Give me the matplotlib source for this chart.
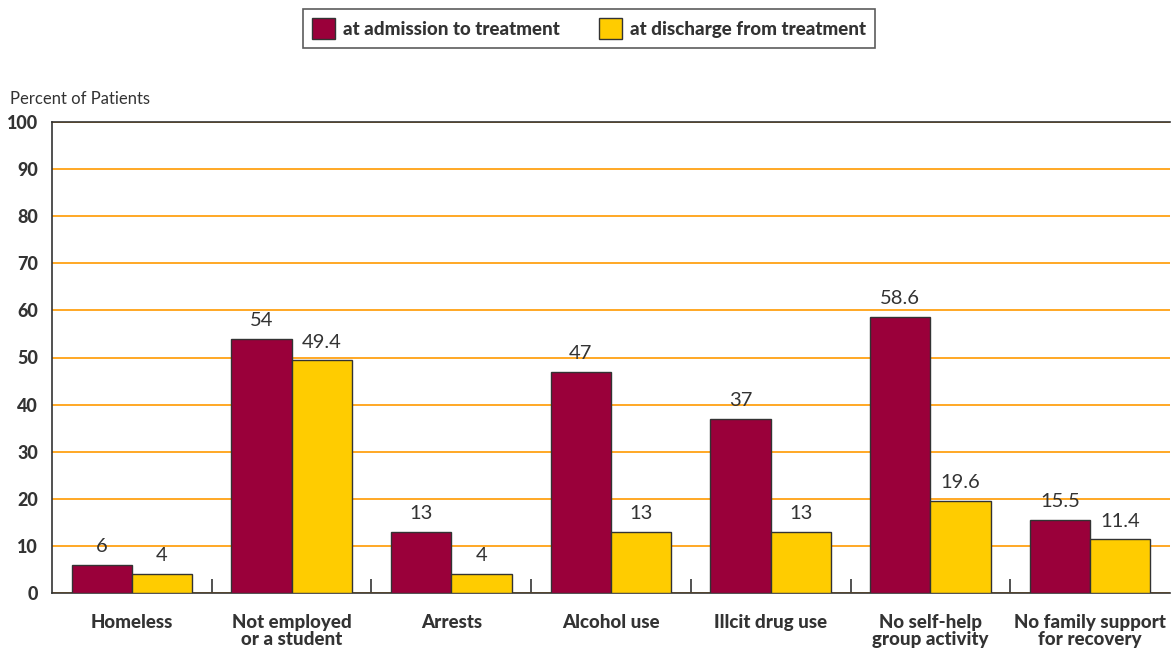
import matplotlib
matplotlib.use("Agg")
import matplotlib.pyplot as plt
import numpy as np

categories = ["Homeless", "Not employed\nor a student", "Arrests", "Alcohol use",
              "Illcit drug use", "No self-help\ngroup activity", "No family support\nfor recovery"]
admission = [6, 54, 13, 47, 37, 58.6, 15.5]
discharge = [4, 49.4, 4, 13, 13, 19.6, 11.4]
adm_labels = ["6", "54", "13", "47", "37", "58.6", "15.5"]
dis_labels = ["4", "49.4", "4", "13", "13", "19.6", "11.4"]
series_names = ["at admission to treatment", "at discharge from treatment"]
yticks = list(range(0, 101, 10))

maroon = "#9A003A"
yellow = "#FFCC00"
edge = "#333333"
grid_c = "#FF9900"
text_c = "#333333"

fig = plt.figure(figsize=(11.73, 6.49), dpi=100)
ax = fig.add_axes([52/1173, 1-593/649, (1170-52)/1173, (593-122)/649])

x = np.arange(len(categories))
w = 0.3775
b1 = ax.bar(x - w/2, admission, w, color=maroon, edgecolor=edge, linewidth=1.0,
            label=series_names[0], zorder=3)
b2 = ax.bar(x + w/2, discharge, w, color=yellow, edgecolor=edge, linewidth=1.0,
            label=series_names[1], zorder=3)

for rect, lab in zip(b1, adm_labels):
    ax.annotate(lab, (rect.get_x() + rect.get_width()/2, rect.get_height()),
                xytext=(0, 7), textcoords="offset points", ha="center", va="bottom",
                fontsize=14.5, color=text_c, family="Lato")
for rect, lab in zip(b2, dis_labels):
    ax.annotate(lab, (rect.get_x() + rect.get_width()/2, rect.get_height()),
                xytext=(0, 7), textcoords="offset points", ha="center", va="bottom",
                fontsize=14.5, color=text_c, family="Lato")

ax.set_xlim(-0.5, len(categories) - 0.5)
ax.set_ylim(0, 100)
ax.set_yticks(yticks)
ax.set_yticklabels([str(t) for t in yticks], fontsize=13, fontweight="black",
                   color=text_c, family="Lato")
ax.tick_params(axis="y", length=0, pad=10)

ax.set_xticks(x)
ax.set_xticklabels(categories, fontsize=13.5, fontweight="black", color=text_c,
                   family="Lato", linespacing=1.0)
ax.tick_params(axis="x", which="major", length=0, pad=15)
ax.set_xticks(np.arange(0.5, len(categories) - 1, 1), minor=True)
ax.tick_params(axis="x", which="minor", direction="in", length=10, width=1.2,
               color=edge)

ax.yaxis.grid(True, color=grid_c, linewidth=1.2, zorder=0)
ax.set_axisbelow(True)
for s in ["left", "bottom", "top"]:
    ax.spines[s].set_color(edge)
    ax.spines[s].set_linewidth(1.2)
ax.spines["right"].set_visible(False)

fig.text(10/1173, 1-99/649, "Percent of Patients", fontsize=12, color=text_c,
         family="Lato", va="center", ha="left")

leg = fig.legend(handles=[b1, b2], loc="center", bbox_to_anchor=(589/1173, 1-28.5/649),
                 ncol=2, frameon=True, fancybox=False, edgecolor=edge,
                 prop={"family": "Lato", "weight": "black", "size": 13.5},
                 handlelength=1.2, handleheight=1.3, columnspacing=2.1,
                 handletextpad=0.45, borderpad=0.5)
leg.get_frame().set_linewidth(1.2)
for t in leg.get_texts():
    t.set_color(text_c)

fig.savefig("out.png", dpi=100)
